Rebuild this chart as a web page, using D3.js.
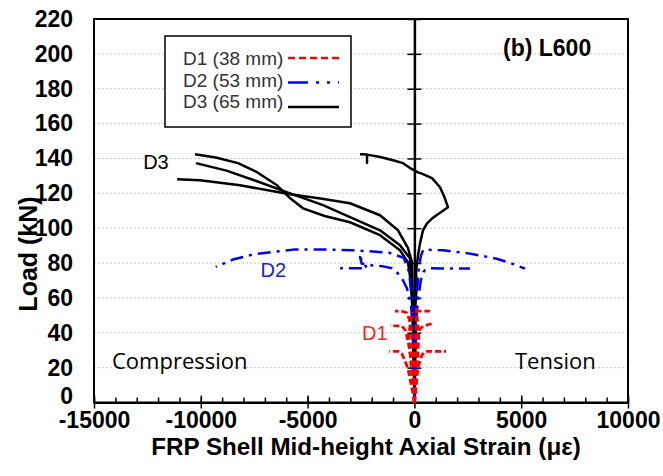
<!DOCTYPE html>
<html><head><meta charset="utf-8">
<script src="https://cdn.jsdelivr.net/npm/d3@7"></script>
<style>body{margin:0;background:#fff}svg{display:block}</style>
</head><body>
<svg id="c" width="663" height="476"></svg>
<script>
// ---- data: [strain (µε), load (kN)] ----
const xTicks = [-15000,-10000,-5000,0,5000,10000];
const yTicks = [0,20,40,60,80,100,120,140,160,180,200,220];
const legendLabels = ["D1 (38 mm)","D2 (53 mm)","D3 (65 mm)"];

const d1_g1 = [[0,0],[-30,15],[-80,30],[-150,42],[-250,48],[-362,51.5],[-600,52.4],[-908,52.4]];
const d1_g2 = [[0,0],[-50,12],[-120,22],[-250,32],[-362,38.5],[-440,41.8],[-595,43.9],[-900,44],[-1142,44.2]];
const d1_g3 = [[0,0],[-80,6],[-150,10],[-284,18.4],[-440,24.1],[-595,28],[-753,29.3],[-1175,29.3]];
const d1_g4 = [[0,0],[20,15],[50,30],[80,42],[100,50],[107,52.4],[400,52.4],[730,52.4]];
const d1_g5 = [[0,0],[40,12],[100,22],[183,38.5],[262,42.3],[417,43.9],[600,44.5],[810,45.2]];
const d1_g6 = [[0,0],[60,8],[169,20.3],[342,27],[496,29.3],[1000,29.3],[1479,29.3]];
const d1_g7 = [[0,0],[-120,15],[-200,28],[-260,38],[-200,45],[-120,52]];
const d1_g8 = [[0,0],[110,15],[160,28],[200,38],[150,46],[90,54]];

const d2_g1 = [[0,0],[-20,20],[-60,40],[-120,60],[-250,75],[-500,83],[-1200,86],[-2860,87.3],[-4106,87.8],[-5670,87.7],[-7542,85.0],[-8500,82],[-9300,77.8]];
const d2_g2 = [[0,0],[20,20],[50,40],[100,60],[200,76],[300,84],[417,87.7],[1353,87.3],[2603,85.4],[3853,82.5],[4500,80],[5178,76.8]];
const d2_g3 = [[0,0],[-30,20],[-80,40],[-150,55],[-350,65.5],[-530,70],[-770,74],[-1050,77],[-1470,78.1],[-2080,78.7],[-2467,79.7],[-2547,83.5],[-2220,77],[-3480,77]];
const d2_g4 = [[0,0],[20,20],[50,40],[100,50],[200,62],[300,70],[417,74.8],[500,76],[730,77],[1350,76.8],[2290,76.8],[2600,76.8]];

const d3_g1 = [[0,0],[-20,20],[-60,40],[-120,60],[-200,72],[-300,80.4],[-674,87.3],[-1611,96],[-3015,103.4],[-4200,107],[-5215,111.4],[-5800,117],[-6432,124.6],[-7368,132.1],[-8258,137.3],[-9300,140.5],[-10271,142.4]];
const d3_g2 = [[0,0],[-20,20],[-50,40],[-100,60],[-150,72],[-206,82.7],[-674,90.2],[-1611,98.8],[-3015,106.3],[-4279,113.2],[-5823,120],[-7368,126.9],[-8800,133],[-10225,137.3]];
const d3_g3 = [[0,0],[-10,20],[-40,40],[-80,60],[-100,75],[-112,80.4],[-300,88.5],[-768,98.8],[-1611,107.4],[-3015,114.3],[-4400,117],[-5823,119.5],[-8165,124.6],[-10034,127.5],[-11110,128.1]];
const d3_g4 = [[0,0],[30,20],[60,40],[40,55],[100,65],[80,75],[170,84.4],[262,91.3],[403,98.8],[590,102.8],[824,105.5],[1100,108],[1339,110],[1573,112],[1400,118],[1199,123.5],[824,128.7],[400,131],[169,132],[-200,134.5],[-534,137.3],[-1000,139],[-1600,140.8],[-2218,142.2],[-2218,137.5],[-2218,142.2],[-2547,142.4]];

// ---- chart ----
const svg = d3.select("#c");
const L=94, R=628, T=19, B=402.5;
const FONT = "Liberation Sans, Arial, sans-serif";
const x = d3.scaleLinear().domain([-15000,10000]).range([L,R]);
const y = d3.scaleLinear().domain([0,220]).range([B,T]);

// gridlines
svg.append("g").selectAll("line").data(yTicks.filter(v=>v>0&&v<220)).join("line")
  .attr("x1",L).attr("x2",R).attr("y1",d=>y(d)).attr("y2",d=>y(d))
  .attr("stroke","#c8c8c8").attr("stroke-width",1).attr("stroke-dasharray","2,2");

// frame
svg.append("rect").attr("x",L).attr("y",T).attr("width",R-L).attr("height",B-T)
  .attr("fill","none").attr("stroke","#000").attr("stroke-width",2);

// x axis (bottom)
const xMinor = d3.range(-15000,10001,1000);
svg.append("g").attr("transform",`translate(0,${B})`)
  .call(d3.axisBottom(x).tickValues(xMinor).tickSize(-5).tickFormat(""))
  .call(g=>g.select(".domain").remove())
  .call(g=>g.selectAll("line").attr("stroke","#000").attr("stroke-width",1.5));
svg.append("g").attr("transform",`translate(0,${B})`)
  .call(d3.axisBottom(x).tickValues(xTicks).tickSizeInner(6).tickSizeOuter(0).tickFormat(d=>d))
  .call(g=>g.select(".domain").attr("stroke","#000").attr("stroke-width",2))
  .call(g=>g.selectAll("line").attr("stroke","#000").attr("stroke-width",1.5).attr("y1",-7))
  .call(g=>g.selectAll("text").attr("y",25.5).attr("dy",null).attr("font-family",FONT)
     .attr("font-weight","bold").attr("font-size",23).attr("fill","#000"));

// y axis through x=0 (cross ticks)
svg.append("g").attr("transform",`translate(${x(0)},0)`)
  .call(d3.axisLeft(y).tickValues(yTicks).tickSizeInner(7).tickSizeOuter(0).tickFormat(""))
  .call(g=>g.select(".domain").attr("stroke","#000").attr("stroke-width",2.5))
  .call(g=>g.selectAll("line").attr("stroke","#000").attr("stroke-width",1.5).attr("x2",7).attr("x1",-7));

// y tick labels at left
svg.append("g").attr("transform",`translate(${L},0)`)
  .call(d3.axisLeft(y).tickValues(yTicks).tickSize(0).tickPadding(21))
  .call(g=>g.select(".domain").remove())
  .call(g=>g.selectAll("text").attr("font-family",FONT)
     .attr("font-weight","bold").attr("font-size",23).attr("fill","#000"))
  .call(g=>g.selectAll(".tick").filter(d=>d===0).select("text").attr("dy","0.05em"));

// axis titles
svg.append("text").attr("x",366).attr("y",455).attr("text-anchor","middle")
  .attr("font-family",FONT).attr("font-weight","bold")
  .attr("font-size",24.2).text("FRP Shell Mid-height Axial Strain (με)");
svg.append("text").attr("transform",`translate(37,254) rotate(-90)`).attr("text-anchor","middle")
  .attr("font-family",FONT).attr("font-weight","bold")
  .attr("font-size",25).text("Load (kN)");

// data lines
const line = d3.line().x(d=>x(d[0])).y(d=>y(d[1]));
const seriesD3 = [d3_g1,d3_g2,d3_g3,d3_g4];
const seriesD2 = [d2_g1,d2_g2,d2_g3,d2_g4];
const seriesD1 = [d1_g1,d1_g2,d1_g3,d1_g4,d1_g5,d1_g6,d1_g7,d1_g8];
const sD3 = {stroke:"#000", dash:null, w:2.5};
const sD2 = {stroke:"#0000ff", dash:"13,6,3,6", w:2.5};
const sD1 = {stroke:"#ff0000", dash:"6,3", w:2.8};
function draw(series, s){
  svg.append("g").selectAll("path").data(series).join("path")
    .attr("d",line).attr("fill","none").attr("stroke",s.stroke).attr("stroke-width",s.w)
    .attr("stroke-dasharray",s.dash).attr("stroke-linejoin","round");
}
draw(seriesD3,sD3); draw(seriesD2,sD2); draw(seriesD1,sD1);

// curve labels
const lab = (t,xx,yy,c,f,fs)=>svg.append("text").attr("x",xx).attr("y",yy).attr("fill",c)
  .attr("font-family",f).attr("font-size",fs).text(t);
lab("D3",x(-12700),y(134),"#000",FONT,20);
lab("D2",x(-7200),y(72),"#2222cc",FONT,20);
lab("D1",x(-2450),y(36),"#ff2020",FONT,20);
lab("Compression",112,369,"#000","Open Sans, sans-serif",22);
lab("Tension",515,369,"#000","Open Sans, sans-serif",22);
svg.append("text").attr("x",503).attr("y",56).attr("font-family",FONT)
  .attr("font-weight","bold").attr("font-size",23).text("(b) L600");

// legend
const lg = svg.append("g");
lg.append("rect").attr("x",165).attr("y",36).attr("width",186).attr("height",91)
  .attr("fill","#fff").attr("stroke","#000").attr("stroke-width",1.5);
const legStyles = [{s:"#ff0000",d:"7,4"},{s:"#0000ff",d:"20,8,3,8,3,8"},{s:"#000",d:null}];
legendLabels.forEach((t,i)=>{
  const by = 65 + i*21.5;
  lg.append("text").attr("x",183).attr("y",by).attr("font-family",FONT)
    .attr("font-size",19).attr("fill","#333").text(t);
  lg.append("line").attr("x1",288).attr("x2",339).attr("y1",by-7+i*3).attr("y2",by-7+i*3)
    .attr("stroke",legStyles[i].s).attr("stroke-width",2.5).attr("stroke-dasharray",legStyles[i].d);
});
</script>
</body></html>
